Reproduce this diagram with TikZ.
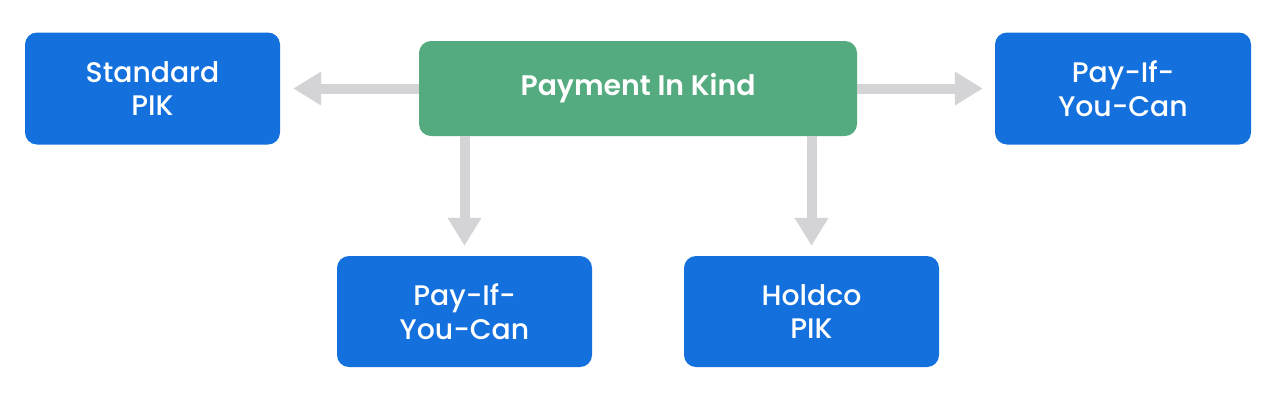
\documentclass[tikz,border=0pt]{standalone}
\usepackage{fontspec}
\setmainfont{Poppins}
\newfontfamily\semibold{Poppins SemiBold}
\newfontfamily\medium{Poppins Medium}
\usetikzlibrary{arrows.meta}
\definecolor{boxblue}{HTML}{1370DC}
\definecolor{boxgreen}{HTML}{55AB80}
\definecolor{arrowgray}{HTML}{D4D3D6}
\tikzset{
  bluebox/.style={fill=boxblue, rounded corners=12pt, text=white, align=center,
    font=\medium\fontsize{28.3}{33.5}\selectfont, inner sep=0pt},
  greenbox/.style={fill=boxgreen, rounded corners=12pt, text=white, align=center,
    font=\semibold\fontsize{28.3}{33.5}\selectfont, inner sep=0pt},
  conn/.style={draw=arrowgray, line width=10pt, -{Triangle[length=28pt,width=32pt]}}
}
\begin{document}
\begin{tikzpicture}[x=1pt,y=-1pt]
\useasboundingbox (0,0) rectangle (1276,400);
\node[bluebox, minimum width=255pt, minimum height=112pt] (std) at (152.5,88.5) {Standard\\PIK};
\node[greenbox, minimum width=438pt, minimum height=95pt] (pik) at (638,88.5) {Payment In Kind};
\node[bluebox, minimum width=256pt, minimum height=112pt] (pr) at (1123,88.5) {Pay-If-\\You-Can};
\node[bluebox, minimum width=255pt, minimum height=111pt] (pb) at (464.5,311.5) {Pay-If-\\You-Can};
\node[bluebox, minimum width=255pt, minimum height=111pt] (hp) at (811.5,311.5) {Holdco\\PIK};
\draw[conn, shorten >=13pt] (pik.west) -- (std.east);
\draw[conn, shorten >=12pt] (pik.east) -- (pr.west);
\draw[conn, shorten >=10pt] (pik.south -| pb.north) -- (pb.north);
\draw[conn, shorten >=10pt] (pik.south -| hp.north) -- (hp.north);
\end{tikzpicture}
\end{document}
